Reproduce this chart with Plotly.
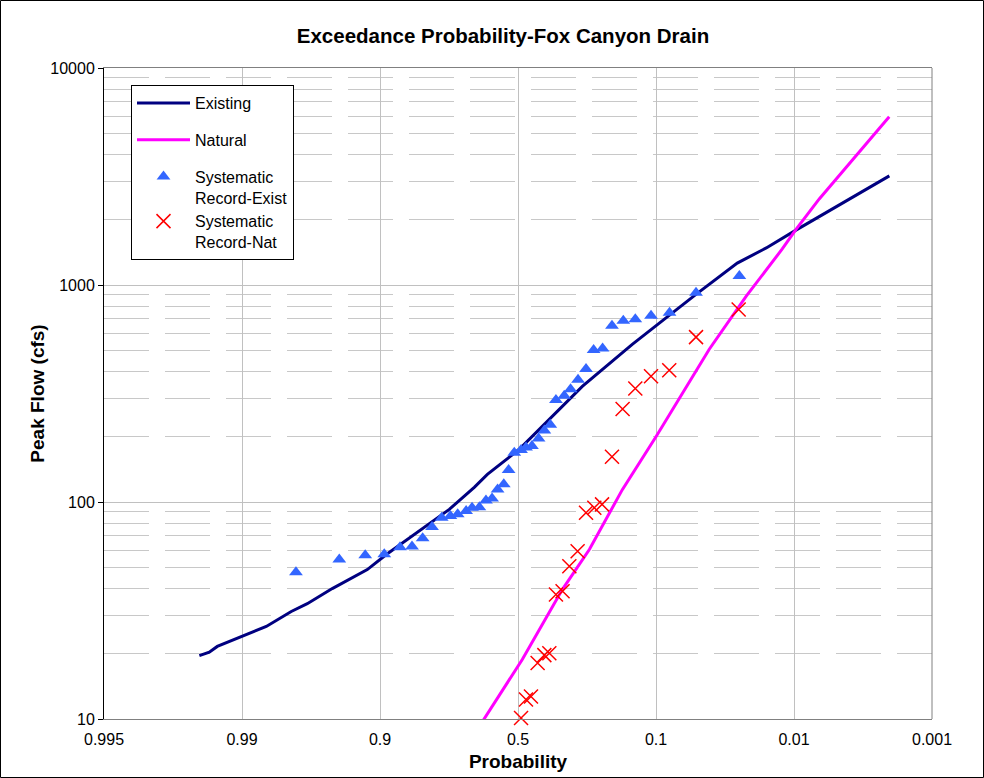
import plotly.graph_objects as go

# ---- axis labels ----
prob_ticks = [-3, -2, -1, 0, 1, 2, 3]
prob_labels = ["0.995", "0.99", "0.9", "0.5", "0.1", "0.01", "0.001"]
flow_ticks = [10, 100, 1000, 10000]
flow_labels = ["10", "100", "1000", "10000"]

# ---- frequency curves (x in probability-scale units) ----
existing_x = [-2.309, -2.237, -2.179, -1.998, -1.824, -1.643, -1.527, -1.346, -1.092, -0.954,
              -0.679, -0.498, -0.317, -0.222, 0.009, 0.227, 0.466, 0.828, 1.002, 1.169,
              1.292, 1.589, 1.799, 2.017, 2.278, 2.691]
existing_q = [19.6, 20.3, 21.6, 24.0, 26.7, 31.3, 34.0, 39.9, 48.8, 57.3,
              76.4, 92.5, 116.8, 134, 175, 240, 341, 533, 653, 791,
              908, 1262, 1482, 1795, 2244, 3184]

natural_x = [-0.280, 0.031, 0.321, 0.517, 0.756, 1.002, 1.386, 1.654, 1.915, 2.016, 2.183, 2.451, 2.690]
natural_q = [9.25, 18.8, 39.5, 60.4, 114, 201, 506, 889, 1466, 1811, 2492, 3936, 5960]

# ---- systematic record ----
sys_exist_x = [-1.609, -1.295, -1.107, -0.969, -0.855, -0.768, -0.691, -0.623, -0.553, -0.490,
               -0.437, -0.376, -0.333, -0.280, -0.232, -0.188, -0.148, -0.103, -0.068, -0.027,
               0.022, 0.058, 0.101, 0.149, 0.191, 0.234, 0.275, 0.335, 0.381, 0.435,
               0.493, 0.548, 0.613, 0.681, 0.763, 0.850, 0.964, 1.098, 1.290, 1.604]
sys_exist_q = [47.5, 54.3, 56.9, 57.5, 61.9, 62.3, 68.1, 76.6, 84.6, 86.1,
               87.7, 90.8, 94.1, 94.5, 101.7, 103.9, 114.3, 120.6, 140.4, 168.8,
               173.6, 178.1, 181.1, 196, 213.3, 226.9, 295.3, 308.8, 330.8, 365.9,
               410.6, 502.3, 509.8, 649.6, 685, 696, 721, 744, 920, 1099]

sys_nat_x = [0.022, 0.058, 0.094, 0.142, 0.191, 0.227, 0.275, 0.323, 0.372, 0.432,
             0.493, 0.553, 0.609, 0.681, 0.758, 0.850, 0.964, 1.096, 1.290, 1.599]
sys_nat_q = [10.1, 12.3, 12.7, 18.1, 19.7, 20.1, 37.5, 38.8, 50.6, 59.3,
             89.2, 94.1, 97.5, 161.5, 268.4, 333.3, 379.8, 404.9, 575, 771.7]

FONT = "Arial, Liberation Sans, sans-serif"
W, H = 984, 778
ML, MR, MT, MB = 104, 52, 68, 59

fig = go.Figure()
fig.add_trace(go.Scatter(x=existing_x, y=existing_q, mode="lines", name="Existing",
                         legendgroup="a", line=dict(color="#000080", width=3)))
fig.add_trace(go.Scatter(x=natural_x, y=natural_q, mode="lines", name="Natural",
                         legendgroup="b", line=dict(color="#FF00FF", width=3)))
fig.add_trace(go.Scatter(x=sys_exist_x, y=sys_exist_q, mode="markers",
                         name="Systematic<br>Record-Exist", legendgroup="c",
                         marker=dict(symbol="triangle-up", size=12, color="#3366FF",
                                     line=dict(width=0)), cliponaxis=False))
fig.add_trace(go.Scatter(x=sys_nat_x, y=sys_nat_q, mode="markers",
                         name="Systematic<br>Record-Nat", legendgroup="c",
                         marker=dict(symbol="x-thin-open", size=14, color="#FF0000",
                                     line=dict(width=1.5, color="#FF0000")), cliponaxis=False))

minor_vals = [m * 10 ** e for e in (1, 2, 3) for m in range(2, 10)]

fig.update_layout(
    width=W, height=H,
    margin=dict(l=ML, r=MR, t=MT, b=MB, autoexpand=False),
    paper_bgcolor="white", plot_bgcolor="white",
    font=dict(family=FONT, size=16, color="black"),
    title=dict(text="<b>Exceedance Probability-Fox Canyon Drain</b>",
               font=dict(family=FONT, size=20.5, color="black"),
               x=503 / W, xanchor="center", y=1 - 36 / H, yanchor="middle"),
    xaxis=dict(range=[-3, 3], tickmode="array", tickvals=prob_ticks, ticktext=prob_labels,
               showgrid=True, gridcolor="#C0C0C0", gridwidth=1, zeroline=False,
               showline=True, linecolor="#808080", linewidth=1, mirror=True,
               ticks="", tickfont=dict(size=16), ticklabelstandoff=6, automargin=False,
               title=dict(text="<b>Probability</b>", font=dict(size=19), standoff=7)),
    yaxis=dict(type="log", range=[1, 4], tickmode="array", tickvals=flow_ticks, ticktext=flow_labels,
               showgrid=True, gridcolor="#C0C0C0", gridwidth=1, zeroline=False,
               showline=True, linecolor="black", linewidth=1, automargin=False,
               ticks="outside", ticklen=5, tickcolor="black", tickfont=dict(size=16),
               minor=dict(tickvals=minor_vals, showgrid=True, gridcolor="#C8C8C8",
                          griddash="45px,16px", ticks=""),
               title=dict(text="<b>Peak Flow (cfs)</b>", font=dict(size=19), standoff=0)),
    legend=dict(x=(131 - ML) / (W - ML - MR), y=1 - (85 - MT) / (H - MT - MB),
                xanchor="left", yanchor="top", bgcolor="white",
                bordercolor="black", borderwidth=1, font=dict(size=16),
                valign="top", tracegroupgap=13, itemwidth=53),
    showlegend=True,
)

# right-hand plot-area border (gray) and chart-area border
fig.add_shape(type="line", xref="x domain", yref="y domain", x0=1, x1=1, y0=0, y1=1,
              line=dict(color="#808080", width=1))
pw, ph = W - ML - MR, H - MT - MB
fig.add_shape(type="rect", xref="paper", yref="paper",
              x0=-(ML - 0.5) / pw, x1=1 + (MR - 0.5) / pw,
              y0=-(MB - 0.5) / ph, y1=1 + (MT - 0.5) / ph,
              line=dict(color="black", width=1), layer="below")

fig.write_html("out.html", config={"displayModeBar": False},
               post_script="document.body.style.margin='0';document.body.style.overflow='hidden';")
